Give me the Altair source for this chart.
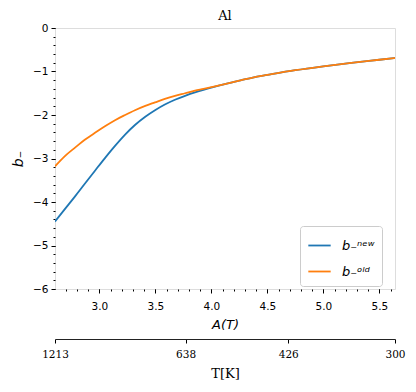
import altair as alt
import pandas as pd

# Main series: A(T) vs b_
a_vals = [2.604, 2.69, 2.783, 2.87, 2.961, 3.05, 3.14, 3.23, 3.318, 3.41, 3.497, 3.585, 3.675, 3.765, 3.854, 3.93, 4.0, 4.12, 4.25, 4.37, 4.5, 4.75, 5.0, 5.25, 5.5, 5.64]
b_new = [-4.45, -4.17, -3.87, -3.58, -3.28, -2.99, -2.71, -2.45, -2.23, -2.04, -1.89, -1.76, -1.65, -1.56, -1.48, -1.42, -1.37, -1.29, -1.21, -1.14, -1.08, -0.97, -0.88, -0.80, -0.73, -0.69]
b_old = [-3.18, -2.95, -2.75, -2.57, -2.41, -2.26, -2.12, -2.00, -1.89, -1.79, -1.71, -1.63, -1.56, -1.50, -1.44, -1.40, -1.36, -1.29, -1.21, -1.14, -1.08, -0.97, -0.88, -0.80, -0.73, -0.69]
series_names = ["new", "old"]
series_labels = ["b₋ⁿᵉʷ", "b₋ᵒˡᵈ"]
colors = ["#1f77b4", "#ff7f0e"]

# Secondary temperature axis
t_labels = ["1213", "638", "426", "300"]
t_pos = [2.604, 3.77, 4.687, 5.64]

x_domain = [2.604, 5.64]
y_domain = [-6, 0]
x_major = [3.0, 3.5, 4.0, 4.5, 5.0, 5.5]
x_minor = [round(2.7 + 0.1 * i, 1) for i in range(30)]
y_major = [-6, -5, -4, -3, -2, -1, 0]
y_minor = [round(-6 + 0.2 * i, 1) for i in range(31)]

rows = []
for name, vals in zip(series_names, [b_new, b_old]):
    for a, b in zip(a_vals, vals):
        rows.append({"A": a, "b": b, "series": name})
df = pd.DataFrame(rows)
tdf = pd.DataFrame({"A": t_pos, "T": t_labels})

xs = alt.Scale(domain=x_domain, nice=False, zero=False)
ys = alt.Scale(domain=y_domain, nice=False, zero=False)

legend_expr = " : ".join(f"datum.label == '{n}' ? '{l}'" for n, l in zip(series_names, series_labels)) + " : datum.label"
t_expr = "[" + ",".join(f"'{t}'" for t in t_labels) + "][indexof([" + ",".join(str(p) for p in t_pos) + "], datum.value)]"

sans = "DejaVu Sans"
serif = "DejaVu Serif"

lines = alt.Chart(df).mark_line(strokeWidth=1.8, interpolate="monotone", clip=True).encode(
    x=alt.X("A:Q", scale=xs, axis=alt.Axis(
        values=x_major, format=".1f", title="A(T)", titleFont=sans, titleFontStyle="italic",
        titleFontWeight="normal", titleFontSize=13, titlePadding=7, labelFont=sans, labelFontSize=10.5,
        labelColor="#000", tickColor="#000", tickSize=4, domain=False, grid=False, labelPadding=8)),
    y=alt.Y("b:Q", scale=ys, axis=alt.Axis(
        values=y_major, format="d", title="b₋", titleFont=sans, titleFontStyle="italic",
        titleFontWeight="normal", titleFontSize=14, titlePadding=7, labelFont=sans, labelFontSize=10.5,
        labelColor="#000", tickColor="#000", tickSize=4, domain=False, grid=False, labelPadding=3)),
    color=alt.Color("series:N", scale=alt.Scale(domain=series_names, range=colors), legend=alt.Legend(
        title=None, orient="none", legendX=245, legendY=198, symbolType="stroke", symbolStrokeWidth=1.8,
        symbolSize=500, labelExpr=legend_expr, labelFont=sans, labelFontSize=13, labelFontStyle="italic",
        strokeColor="#cccccc", cornerRadius=3, padding=7, rowPadding=6, fillColor="white", labelOffset=10)),
)

minor_x = alt.Chart(pd.DataFrame({"A": x_minor})).mark_point(opacity=0).encode(
    x=alt.X("A:Q", scale=xs, axis=alt.Axis(values=x_minor, labels=False, title=None, tickSize=2,
                                            tickColor="#000", domain=False, grid=False, orient="bottom"))
)
minor_y = alt.Chart(pd.DataFrame({"b": y_minor})).mark_point(opacity=0).encode(
    y=alt.Y("b:Q", scale=ys, axis=alt.Axis(values=y_minor, labels=False, title=None, tickSize=2,
                                            tickColor="#000", domain=False, grid=False, orient="left"))
)
t_axis = alt.Chart(tdf).mark_point(opacity=0).encode(
    x=alt.X("A:Q", scale=xs, axis=alt.Axis(
        values=t_pos, labelExpr=t_expr, orient="bottom", offset=50, title="T[K]", titleFont=serif,
        titleFontWeight="normal", titleFontSize=13, titlePadding=8, labelFont=serif, labelFontSize=10.5,
        labelColor="#000", tickColor="#000", tickSize=4, domain=True, domainColor="#222",
        grid=False, labelPadding=6, labelFlush=False))
)

chart = alt.layer(lines, minor_x, minor_y, t_axis).resolve_axis(x="independent", y="independent").properties(
    width=340, height=261,
    title=alt.TitleParams("Al", font=serif, fontSize=13, fontWeight="normal", offset=0, color="#000",
                          frame="group"),
    autosize=alt.AutoSizeParams(type="none"),
    padding={"left": 47, "top": 20, "right": 13, "bottom": 95},
).configure_view(stroke="#111", strokeWidth=1.3).configure(background="white")

chart.save("out.html", embed_options={"renderer": "svg", "actions": False})
